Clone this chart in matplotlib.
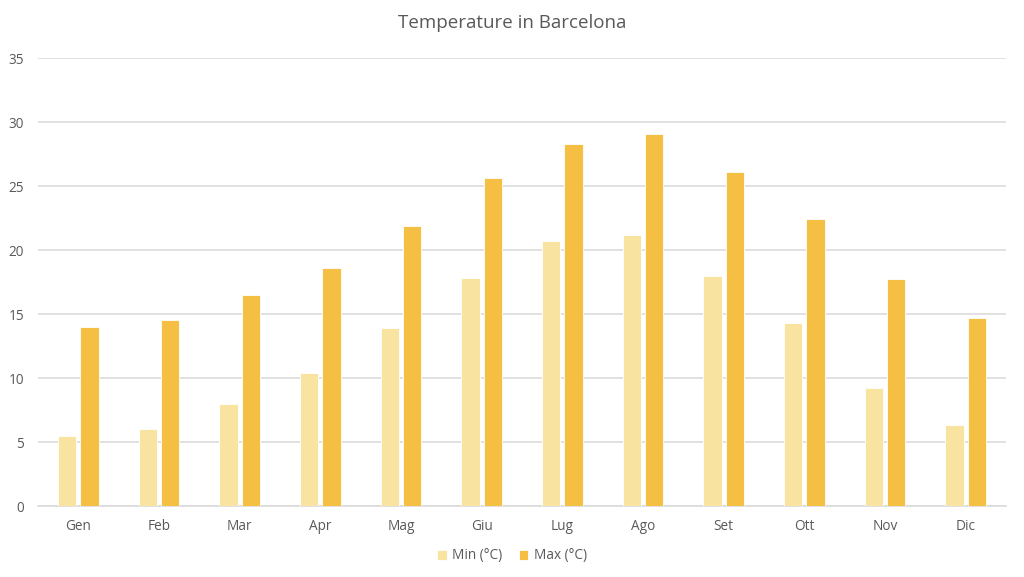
import numpy as np
import matplotlib.pyplot as plt

months = ["Gen", "Feb", "Mar", "Apr", "Mag", "Giu", "Lug", "Ago", "Set", "Ott", "Nov", "Dic"]
temp_min = [5.5, 6.0, 8.0, 10.4, 13.9, 17.8, 20.7, 21.2, 18.0, 14.3, 9.2, 6.3]
temp_max = [14.0, 14.5, 16.5, 18.6, 21.9, 25.6, 28.3, 29.1, 26.1, 22.4, 17.7, 14.7]

plt.rcParams['font.family'] = ['Open Sans', 'DejaVu Sans']
text_color = '#595959'
grid_color = '#D9D9D9'

fig = plt.figure(figsize=(10.24, 5.77), dpi=100)
ax = fig.add_axes([38 / 1024, 1 - 506 / 577, 968 / 1024, 448 / 577])

x = np.arange(len(months))
width = 0.227
offset = 0.14
ax.bar(x - offset, temp_min, width, color='#F9E3A1', edgecolor='white', linewidth=0.6, label='Min (°C)', zorder=3)
ax.bar(x + offset, temp_max, width, color='#F5BF43', edgecolor='white', linewidth=0.6, label='Max (°C)', zorder=3)

ax.set_xlim(-0.5, len(months) - 0.5)
ax.set_ylim(0, 35)
ax.set_yticks(range(0, 36, 5))
ax.set_xticks(x)
ax.set_xticklabels(months)
ax.yaxis.grid(True, color=grid_color, linewidth=1.1, zorder=0)
ax.set_axisbelow(True)
for side in ['top', 'right', 'left']:
    ax.spines[side].set_visible(False)
ax.spines['bottom'].set_color(grid_color)
ax.spines['bottom'].set_linewidth(1.1)
ax.tick_params(axis='both', length=0, labelsize=9.8, colors=text_color)
ax.tick_params(axis='y', pad=10)
ax.tick_params(axis='x', pad=9)

fig.suptitle("Temperature in Barcelona", y=0.975, fontsize=13.5, color=text_color)
fig.legend(loc='center', bbox_to_anchor=(0.5, 1 - 556 / 577), ncol=2, frameon=False,
           fontsize=9.8, labelcolor=text_color, handlelength=0.7, handleheight=0.7,
           handletextpad=0.4, columnspacing=1.2)

fig.savefig("out.png", dpi=100)
